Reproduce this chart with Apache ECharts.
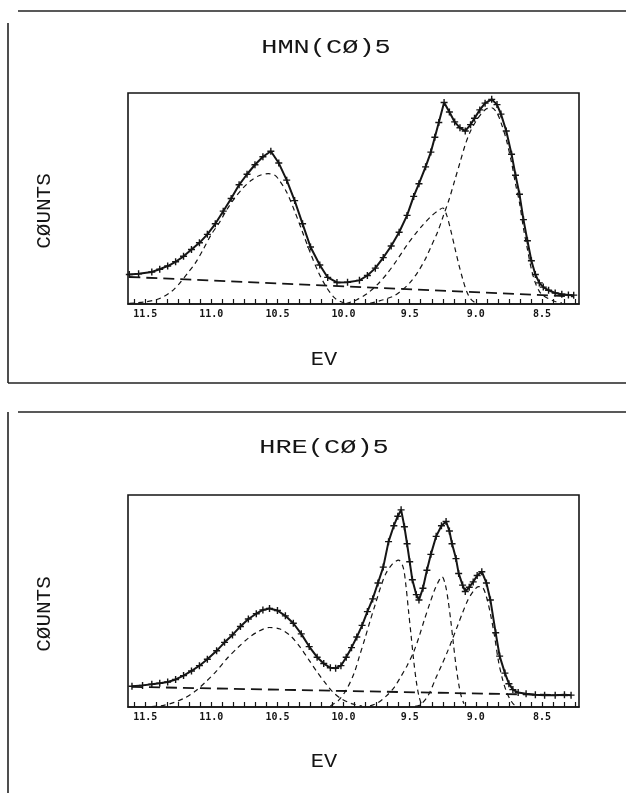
<!DOCTYPE html>
<html>
<head>
<meta charset="utf-8">
<script src="https://cdn.jsdelivr.net/npm/echarts@6.0.0/dist/echarts.min.js"></script>
<style>
  html, body { margin: 0; padding: 0; background: #fff; }
  #chart { width: 626px; height: 793px; }
</style>
</head>
<body>
<div id="chart"></div>
<script>
// tick labels on the energy axis (eV, plotted high -> low)
var evLabels = [11.5, 11.0, 10.5, 10.0, 9.5, 9.0, 8.5];

// ---- HMn(CO)5 : [eV, counts] (0 = axis, 100 = frame top)
var hmnCounts = [
  [11.62, 14.0], [11.55, 14.3], [11.45, 15.2], [11.39, 16.5], [11.33, 18.0], [11.27, 20.0],
  [11.21, 22.6], [11.15, 25.8], [11.09, 29.0], [11.03, 33.0], [10.97, 38.0], [10.91, 44.0],
  [10.85, 50.0], [10.79, 56.5], [10.73, 61.5], [10.67, 66.0], [10.61, 69.8], [10.55, 72.4],
  [10.49, 66.8], [10.43, 58.7], [10.37, 49.0], [10.31, 38.0], [10.25, 27.0], [10.18, 18.5],
  [10.12, 12.6], [10.05, 10.2], [9.97, 10.3], [9.88, 11.2], [9.82, 13.5], [9.76, 17.0],
  [9.70, 22.0], [9.64, 27.5], [9.58, 34.0], [9.52, 42.0], [9.47, 51.0], [9.43, 57.0],
  [9.38, 65.0], [9.34, 72.0], [9.31, 79.0], [9.28, 86.0], [9.24, 95.5], [9.20, 91.0],
  [9.16, 86.3], [9.12, 83.5], [9.08, 82.0], [9.04, 85.0], [9.01, 88.0], [8.97, 92.0],
  [8.93, 95.2], [8.88, 97.0], [8.84, 94.5], [8.81, 90.0], [8.77, 82.0], [8.73, 71.0],
  [8.70, 61.0], [8.67, 52.0], [8.64, 40.0], [8.61, 30.0], [8.58, 20.5], [8.55, 14.0],
  [8.52, 10.0], [8.49, 8.0], [8.45, 6.5], [8.40, 5.2], [8.35, 4.6], [8.30, 4.3], [8.26, 4.2]
];
var hmnBase = [[11.62, 12.8], [8.26, 3.6]];
var hmnBand1 = [
  [11.62, 0.3], [11.50, 1.0], [11.42, 2.0], [11.36, 3.5], [11.30, 6.0], [11.24, 9.8],
  [11.18, 14.5], [11.12, 19.5], [11.06, 26.0], [11.00, 33.0], [10.94, 38.5], [10.88, 45.0],
  [10.82, 50.5], [10.76, 55.0], [10.70, 58.5], [10.64, 60.8], [10.57, 61.8], [10.52, 61.0],
  [10.49, 59.0], [10.43, 53.0], [10.37, 44.0], [10.31, 34.0], [10.25, 24.0], [10.19, 15.0],
  [10.13, 8.0], [10.07, 3.0], [10.01, 0.8], [9.95, 0.1]
];
var hmnBand2 = [
  [9.98, 0.2], [9.90, 2.0], [9.82, 5.0], [9.74, 9.5], [9.67, 14.5], [9.60, 20.5],
  [9.52, 28.0], [9.46, 33.0], [9.40, 37.5], [9.34, 41.5], [9.29, 44.0], [9.25, 45.5],
  [9.22, 42.0], [9.19, 35.0], [9.16, 27.0], [9.13, 19.0], [9.10, 12.0], [9.07, 6.0],
  [9.04, 2.5], [9.01, 0.8]
];
var hmnBand3 = [
  [9.80, 0.3], [9.70, 2.0], [9.62, 3.8], [9.57, 6.0], [9.50, 10.0], [9.44, 15.0],
  [9.38, 21.5], [9.34, 27.0], [9.29, 34.0], [9.25, 41.0], [9.20, 50.0], [9.16, 58.5],
  [9.12, 67.0], [9.08, 75.5], [9.04, 82.0], [9.00, 86.5], [8.96, 90.0], [8.92, 92.5],
  [8.88, 93.0], [8.84, 90.5], [8.81, 86.0], [8.77, 78.0], [8.73, 67.0], [8.70, 57.0],
  [8.67, 48.0], [8.64, 36.0], [8.61, 26.0], [8.58, 16.5], [8.55, 10.0], [8.52, 6.0],
  [8.49, 4.0], [8.45, 2.5], [8.40, 1.2], [8.35, 0.5]
];

// ---- HRe(CO)5
var hreCounts = [
  [11.60, 9.8], [11.52, 10.2], [11.45, 10.7], [11.39, 11.2], [11.33, 11.8], [11.27, 13.0],
  [11.21, 14.8], [11.15, 17.0], [11.09, 19.5], [11.03, 22.5], [10.96, 26.5], [10.90, 30.5],
  [10.84, 34.0], [10.78, 38.0], [10.72, 41.5], [10.66, 44.0], [10.61, 45.8], [10.56, 46.5],
  [10.50, 45.5], [10.44, 43.0], [10.38, 39.5], [10.32, 34.5], [10.26, 28.5], [10.20, 23.5],
  [10.15, 20.5], [10.10, 18.5], [10.06, 18.3], [10.02, 19.5], [9.98, 23.5], [9.94, 28.0],
  [9.90, 33.0], [9.86, 38.5], [9.82, 45.0], [9.78, 51.0], [9.74, 58.5], [9.70, 66.0],
  [9.66, 78.0], [9.62, 85.5], [9.59, 90.0], [9.565, 93.0], [9.54, 85.0], [9.52, 77.0],
  [9.50, 68.5], [9.48, 60.0], [9.45, 53.0], [9.43, 50.5], [9.40, 56.0], [9.37, 64.5],
  [9.34, 72.0], [9.30, 80.5], [9.26, 85.5], [9.225, 87.5], [9.20, 83.0], [9.18, 77.0],
  [9.15, 70.0], [9.13, 63.0], [9.10, 57.5], [9.08, 54.5], [9.05, 56.5], [9.02, 59.0],
  [8.99, 62.0], [8.955, 63.8], [8.92, 58.5], [8.89, 50.5], [8.85, 35.0], [8.82, 24.0],
  [8.78, 16.0], [8.75, 11.0], [8.72, 8.2], [8.68, 6.8], [8.62, 6.2], [8.55, 5.8],
  [8.48, 5.6], [8.40, 5.6], [8.33, 5.8], [8.28, 5.6]
];
var hreBase = [[11.60, 9.5], [8.27, 5.5]];
var hreBand1 = [
  [11.45, 0.2], [11.36, 0.8], [11.28, 2.2], [11.20, 4.3], [11.12, 7.5], [11.04, 12.0],
  [10.96, 17.0], [10.88, 23.0], [10.80, 28.0], [10.72, 32.5], [10.64, 35.8], [10.56, 37.5],
  [10.48, 36.8], [10.40, 33.5], [10.33, 28.4], [10.26, 22.0], [10.20, 16.5], [10.14, 11.5],
  [10.08, 7.0], [10.02, 4.0], [9.94, 1.6], [9.86, 0.4]
];
var hreBand2 = [
  [10.10, 0.5], [10.04, 3.0], [9.98, 8.0], [9.92, 16.0], [9.88, 24.0], [9.84, 32.0],
  [9.80, 40.5], [9.76, 48.5], [9.72, 56.5], [9.68, 63.0], [9.63, 67.5], [9.585, 69.3],
  [9.55, 66.0], [9.53, 58.0], [9.51, 46.0], [9.49, 34.0], [9.47, 22.0], [9.45, 12.0],
  [9.43, 5.0], [9.41, 1.0]
];
var hreBand3 = [
  [9.80, 0.5], [9.74, 2.0], [9.68, 5.0], [9.62, 9.0], [9.57, 14.0], [9.52, 19.5],
  [9.47, 26.0], [9.43, 33.0], [9.39, 41.0], [9.35, 48.5], [9.31, 55.5], [9.28, 59.5],
  [9.255, 61.5], [9.23, 57.5], [9.21, 50.5], [9.19, 41.0], [9.17, 30.0], [9.15, 19.5],
  [9.13, 11.0], [9.11, 5.0], [9.09, 1.5]
];
var hreBand4 = [
  [9.46, 0.3], [9.42, 1.0], [9.36, 5.5], [9.30, 14.0], [9.26, 19.5], [9.22, 25.3],
  [9.18, 31.5], [9.14, 38.0], [9.10, 44.5], [9.06, 50.5], [9.02, 54.5], [8.98, 56.8],
  [8.95, 56.5], [8.92, 52.0], [8.89, 44.0], [8.86, 34.0], [8.83, 22.0], [8.80, 13.5],
  [8.77, 7.5], [8.74, 3.5], [8.71, 1.0], [8.68, 0.2]
];

// small ticks, six per labelled half-volt
var evTicks = [];
for (var i = -1; i <= 39; i++) {
  evTicks.push(+(11.5 - i / 12).toFixed(4));
}

var ink = '#151515';
var tickFont = '"DejaVu Sans Mono", "Liberation Mono", monospace';
var textFont = '"Liberation Mono", "DejaVu Sans Mono", monospace';
var plusSymbol = 'path://M4,0h2v4h4v2h-4v4h-2v-4h-4v-2h4z';

function xAxisFor(idx) {
  return {
    gridIndex: idx,
    type: 'value',
    min: 8.22,
    max: 11.63,
    inverse: true,
    axisLine: { show: true, lineStyle: { color: ink, width: 1.6 } },
    axisTick: {
      show: true,
      inside: true,
      length: 5,
      customValues: evTicks,
      lineStyle: { color: ink, width: 1.2 }
    },
    axisLabel: {
      customValues: evLabels,
      margin: 5,
      color: ink,
      fontFamily: tickFont,
      fontWeight: 'bold',
      fontSize: 10,
      formatter: function (v) { return v.toFixed(1); }
    },
    splitLine: { show: false }
  };
}

function yAxisFor(idx) {
  return {
    gridIndex: idx,
    type: 'value',
    min: 0,
    max: 100,
    axisLine: { show: false },
    axisTick: { show: false },
    axisLabel: { show: false },
    splitLine: { show: false }
  };
}

function band(idx, data) {
  return {
    type: 'line', xAxisIndex: idx, yAxisIndex: idx, data: data,
    showSymbol: false, smooth: 0.3, silent: true,
    lineStyle: { color: ink, width: 1.2, type: [5, 4] }
  };
}

function baseline(idx, data) {
  return {
    type: 'line', xAxisIndex: idx, yAxisIndex: idx, data: data,
    showSymbol: false, silent: true,
    lineStyle: { color: ink, width: 1.8, type: [11, 6] }
  };
}

function counts(idx, data) {
  return {
    type: 'line', xAxisIndex: idx, yAxisIndex: idx, data: data,
    symbol: plusSymbol, symbolSize: 7, z: 5,
    itemStyle: { color: ink },
    lineStyle: { color: ink, width: 2 }
  };
}

function label(text, x, y, sx, rot) {
  return {
    type: 'text', x: x, y: y, scaleX: sx, rotation: rot || 0,
    style: {
      text: text, font: '20px ' + textFont, fill: ink,
      textAlign: 'center', textVerticalAlign: 'middle',
      align: 'center', verticalAlign: 'middle'
    }
  };
}

function rule(x1, y1, x2, y2) {
  return {
    type: 'line',
    shape: { x1: x1, y1: y1, x2: x2, y2: y2 },
    style: { stroke: '#222', lineWidth: 1.6 }
  };
}

var chart = echarts.init(document.getElementById('chart'));
chart.setOption({
  animation: false,
  backgroundColor: '#fff',
  grid: [
    { left: 128, top: 93, width: 451, height: 211, show: true, borderColor: ink, borderWidth: 1.6 },
    { left: 128, top: 495, width: 451, height: 212, show: true, borderColor: ink, borderWidth: 1.6 }
  ],
  xAxis: [xAxisFor(0), xAxisFor(1)],
  yAxis: [yAxisFor(0), yAxisFor(1)],
  series: [
    baseline(0, hmnBase),
    band(0, hmnBand1), band(0, hmnBand2), band(0, hmnBand3),
    counts(0, hmnCounts),
    baseline(1, hreBase),
    band(1, hreBand1), band(1, hreBand2), band(1, hreBand3), band(1, hreBand4),
    counts(1, hreCounts)
  ],
  graphic: [
    rule(18, 11, 626, 11), rule(8, 23, 8, 383), rule(8, 383, 626, 383),
    rule(18, 412, 626, 412), rule(8, 412, 8, 793),
    label('HMN(CØ)5', 326, 48, 1.35),
    label('CØUNTS', 45, 211, 1.05, Math.PI / 2),
    label('EV', 324, 360, 1.1),
    label('HRE(CØ)5', 324, 448, 1.35),
    label('CØUNTS', 45, 614, 1.05, Math.PI / 2),
    label('EV', 324, 762, 1.1)
  ]
});
</script>
</body>
</html>
